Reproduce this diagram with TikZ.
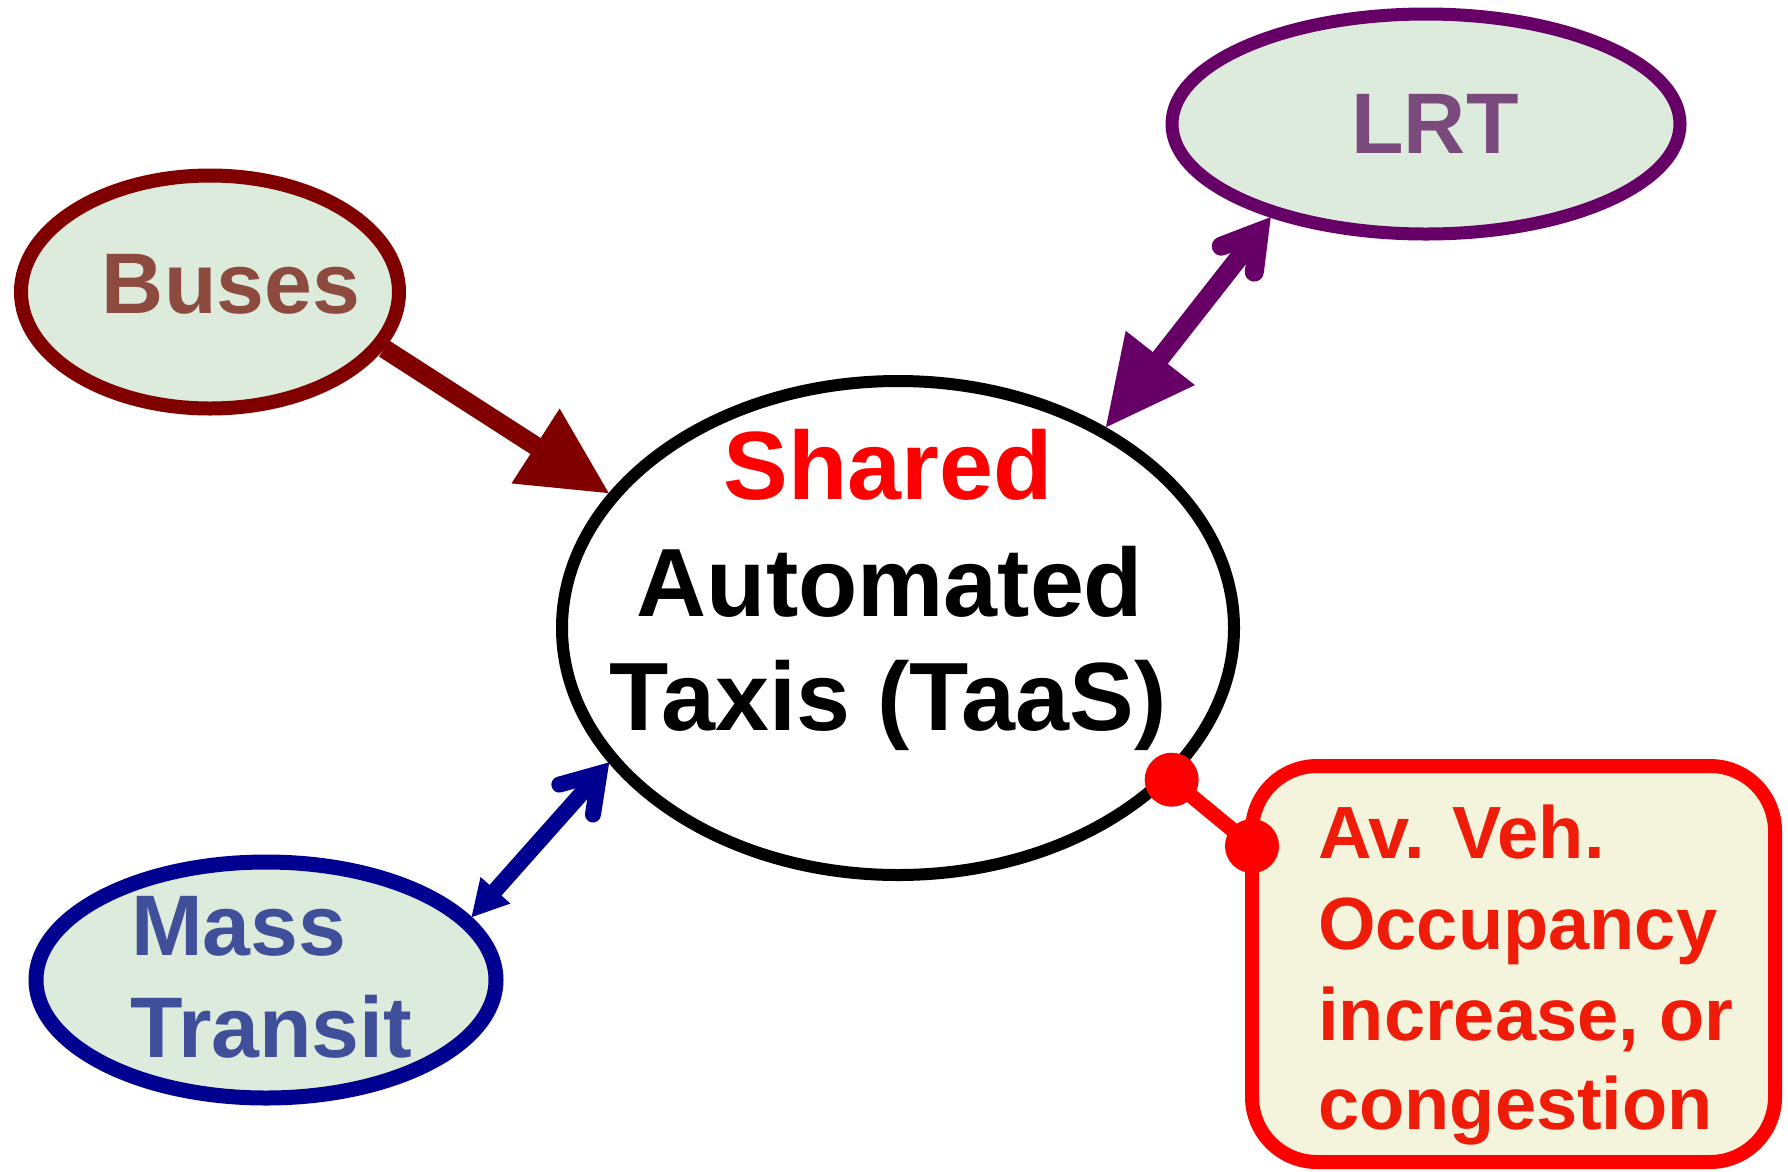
\documentclass[tikz,border=0pt]{standalone}
\usepackage{fontspec}
\setmainfont{Liberation Sans}
\usetikzlibrary{shapes.geometric,calc}
\definecolor{fillg}{RGB}{221,235,221}
\definecolor{busred}{RGB}{128,0,0}
\definecolor{bustext}{RGB}{140,75,62}
\definecolor{lrtpurple}{RGB}{102,0,102}
\definecolor{lrttext}{RGB}{123,74,125}
\definecolor{mtnavy}{RGB}{0,0,144}
\definecolor{mttext}{RGB}{63,79,153}
\definecolor{boxfill}{RGB}{244,244,220}
\definecolor{boxtext}{RGB}{238,28,8}
\begin{document}
\begin{tikzpicture}[x=1pt,y=-1pt,
  oval/.style={ellipse, inner sep=0pt, fill=fillg},
  lbl/.style={font=\bfseries\fontsize{86}{100}\selectfont, inner sep=0pt, anchor=base},
  ctext/.style={font=\bfseries\fontsize{97}{113}\selectfont, inner sep=0pt, anchor=base, text=black},
  btext/.style={font=\bfseries\fontsize{74}{90}\selectfont, inner sep=0pt, anchor=base west, text=boxtext},
  barb/.style={line cap=round, line join=miter, miter limit=10}]
\useasboundingbox (0,0) rectangle (1788,1171);
% shapes
\node[oval, draw=busred, line width=14pt, minimum width=378pt, minimum height=233pt] (bus) at (210,292) {};
\node[oval, draw=lrtpurple, line width=13pt, minimum width=508pt, minimum height=220pt] (lrt) at (1426,124) {};
\node[ellipse, inner sep=0pt, draw=black, fill=white, line width=12pt, minimum width=672pt, minimum height=494pt] (c) at (898,628) {};
\node[oval, draw=mtnavy, line width=15pt, minimum width=460pt, minimum height=236pt] (mt) at (266,980) {};
\node[draw=red, fill=boxfill, line width=14pt, rounded corners=65pt, minimum width=523pt, minimum height=396pt, inner sep=0pt] (box) at (1513.5,964) {};
% texts
\node[lbl, text=bustext] (tbus) at (231,313) {Buses};
\node[lbl, text=lrttext] (tlrt) at (1435,153) {LRT};
\node[ctext, text=red] (t1) at (888,499) {Shared};
\node[ctext] (t2) at (890,616) {Automated};
\node[ctext] (t3) at (888,730) {Taxis (TaaS)};
\node[lbl, anchor=base west, text=mttext] (tm1) at (131,955) {Mass};
\node[lbl, anchor=base west, text=mttext] (tm2) at (130,1057) {Transit};
\node[btext] (b1) at (1318,858) {Av. Veh.};
\node[btext] (b2) at (1318,949) {Occupancy};
\node[btext] (b3) at (1318,1040) {increase, or};
\node[btext] (b4) at (1318,1129) {congestion};
% Buses -> centre
\coordinate (bs) at (bus.-18);
\coordinate (bt) at (c.155);
\coordinate (bm) at ($(bt)!87pt!(bs)$);
\draw[busred, line width=19pt] (bs) -- ($(bt)!80pt!(bs)$);
\fill[busred] (bt) -- ($(bm)!44.5pt!90:(bt)$) -- ($(bm)!44.5pt!-90:(bt)$) -- cycle;
% LRT <-> centre
\coordinate (ls) at (lrt.-149);
\coordinate (lt) at (c.44);
\coordinate (lv) at ($(ls)!18pt!(lt)$);
\coordinate (lb) at ($(lv)!35pt!(lt)$);
\coordinate (lm) at ($(lt)!88pt!(ls)$);
\draw[lrtpurple, line width=19pt] (lv) -- ($(lt)!80pt!(ls)$);
\draw[lrtpurple, line width=19pt, barb] ($(lb)!21pt!90:(lv)$) -- (lv) -- ($(lb)!21pt!-90:(lv)$);
\fill[lrtpurple] (lt) -- ($(lm)!44pt!90:(lt)$) -- ($(lm)!44pt!-90:(lt)$) -- cycle;
% Mass Transit <-> centre
\coordinate (ms) at (mt.17);
\coordinate (mtp) at (c.205);
\coordinate (mv) at ($(mtp)!14pt!(ms)$);
\coordinate (mb) at ($(mv)!35pt!(ms)$);
\coordinate (mm) at ($(ms)!36pt!(mtp)$);
\draw[mtnavy, line width=16pt] ($(ms)!30pt!(mtp)$) -- (mv);
\draw[mtnavy, line width=16pt, barb] ($(mb)!22.5pt!90:(mv)$) -- (mv) -- ($(mb)!22.5pt!-90:(mv)$);
\fill[mtnavy] (ms) -- ($(mm)!20pt!90:(ms)$) -- ($(mm)!20pt!-90:(ms)$) -- cycle;
% centre -- box
\coordinate (d1) at (c.-29.5);
\coordinate (d2) at ($(box.north west)+(7,87)$);
\draw[red, line width=15pt] (d1) -- (d2);
\fill[red] (d1) circle[radius=27pt];
\fill[red] (d2) circle[radius=27pt];
\end{tikzpicture}
\end{document}
